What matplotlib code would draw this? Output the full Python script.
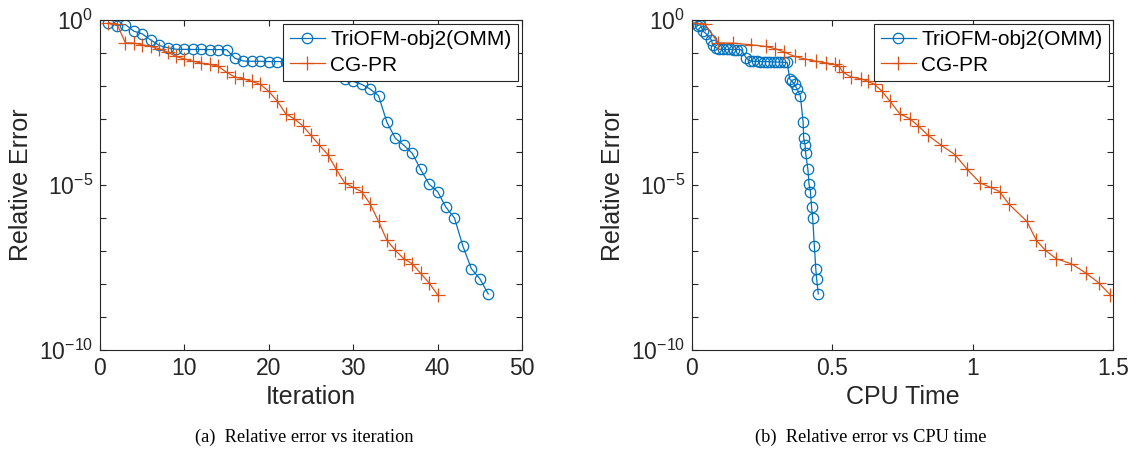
import matplotlib
matplotlib.use("Agg")
import matplotlib.pyplot as plt

# font chu: Arial-like cho truc, Times-like cho chu thich
plt.rcParams['font.family'] = ['Liberation Sans', 'DejaVu Sans']
plt.rcParams['mathtext.default'] = 'regular'

# ---- du lieu ----
# TriOFM-obj2(OMM): sai so tuong doi theo vong lap
iter_tri = list(range(1, 47))
err_tri = [0.83, 0.68, 0.73, 0.46, 0.38, 0.25, 0.17, 0.145,
           0.130, 0.129, 0.128, 0.128, 0.127, 0.127, 0.126,
           0.069,
           0.057, 0.056, 0.056, 0.055, 0.055, 0.055, 0.054, 0.054,
           0.053, 0.053, 0.052, 0.052,
           0.0166, 0.0138, 0.0112, 0.0081, 0.0051,
           7.9e-4, 2.6e-4, 1.6e-4, 9.1e-5, 2.95e-5, 1.05e-5, 6.3e-6,
           2.1e-6, 1.0e-6, 1.4e-7, 2.9e-8, 1.45e-8, 5.0e-9]
# thoi gian CPU tuong ung
time_tri = [0.0, 0.021, 0.030, 0.039, 0.051, 0.069, 0.075, 0.085,
            0.097, 0.110, 0.123, 0.136, 0.149, 0.162, 0.175,
            0.194,
            0.207, 0.219, 0.231, 0.243, 0.255, 0.267, 0.279, 0.291,
            0.303, 0.315, 0.327, 0.339,
            0.348, 0.356, 0.366, 0.374, 0.386,
            0.396, 0.398, 0.403, 0.405, 0.413, 0.417, 0.422,
            0.426, 0.430, 0.436, 0.441, 0.444, 0.450]

# CG-PR
iter_cg = list(range(1, 41))
err_cg = [0.80, 0.77, 0.204, 0.200, 0.178, 0.158, 0.135, 0.107, 0.079, 0.066,
          0.056, 0.050, 0.045, 0.040, 0.026, 0.0186, 0.0166, 0.0138, 0.0112, 0.0069,
          0.0035, 1.45e-3, 1.02e-3, 6.3e-4, 3.2e-4, 1.6e-4, 8.3e-5, 2.95e-5, 1.15e-5, 8.5e-6,
          6.3e-6, 2.7e-6, 7.9e-7, 2.1e-7, 1.05e-7, 5.8e-8, 4.1e-8, 2.1e-8, 1.07e-8, 4.7e-9]
time_cg = [0.0, 0.045, 0.093, 0.146, 0.209, 0.262, 0.297, 0.328, 0.366, 0.401,
           0.443, 0.479, 0.508, 0.524, 0.538, 0.568, 0.603, 0.627, 0.651, 0.677,
           0.705, 0.740, 0.776, 0.805, 0.841, 0.888, 0.937, 0.981, 1.027, 1.064,
           1.096, 1.128, 1.193, 1.227, 1.259, 1.298, 1.352, 1.405, 1.450, 1.490]

labels = ['TriOFM-obj2(OMM)', 'CG-PR']
y_ticks = [10.0 ** (-k) for k in range(0, 11)]
y_labels = {0: '$10^{0}$', 5: '$10^{-5}$', 10: '$10^{-10}$'}

c_blue = '#0072BD'
c_red = '#D95319'
c_ax = '#262626'

fig = plt.figure(figsize=(11.37, 4.57), dpi=100)


def ve_truc(ax, x1, x2, xlim, xticks, xticklabels, xlabel):
    ax.plot(x1, err_tri, '-o', color=c_blue, lw=0.9, ms=7.5,
            mfc='none', mew=0.9, label=labels[0])
    ax.plot(x2, err_cg, '-+', color=c_red, lw=0.9, ms=9.5,
            mew=0.9, label=labels[1])
    ax.set_yscale('log')
    ax.set_ylim(1e-10, 1)
    ax.set_xlim(*xlim)
    ax.set_yticks(y_ticks)
    ax.set_yticklabels([y_labels.get(k, '') for k in range(0, 11)])
    ax.minorticks_off()
    ax.set_xticks(xticks)
    ax.set_xticklabels(xticklabels)
    ax.tick_params(direction='in', top=True, right=True, length=4,
                   width=0.8, labelsize=16.5, colors=c_ax, pad=5)
    for s in ax.spines.values():
        s.set_color(c_ax)
        s.set_linewidth(0.8)
    ax.set_xlabel(xlabel, fontsize=18, color=c_ax, labelpad=4)
    ax.set_ylabel('Relative Error', fontsize=18, color=c_ax, labelpad=4)
    leg = ax.legend(loc='upper right', fontsize=15, handlelength=1.7,
                    handletextpad=0.25, borderpad=0.3, labelspacing=0.3,
                    borderaxespad=0.2, fancybox=False, framealpha=1)
    leg.get_frame().set_edgecolor(c_ax)
    leg.get_frame().set_linewidth(0.8)


ax1 = fig.add_axes([100 / 1137, 107 / 457, 422 / 1137, 330 / 457])
ve_truc(ax1, iter_tri, iter_cg, (0, 50), [0, 10, 20, 30, 40, 50],
        ['0', '10', '20', '30', '40', '50'], 'Iteration')

ax2 = fig.add_axes([692 / 1137, 107 / 457, 421 / 1137, 330 / 457])
ve_truc(ax2, time_tri, time_cg, (0, 1.5), [0, 0.5, 1, 1.5],
        ['0', '0.5', '1', '1.5'], 'CPU Time')

# chu thich duoi moi hinh
fig.text(304 / 1137, 1 - 437 / 457, '(a)  Relative error vs iteration',
         ha='center', va='center', fontsize=13.2, family='Liberation Serif')
fig.text(871 / 1137, 1 - 437 / 457, '(b)  Relative error vs CPU time',
         ha='center', va='center', fontsize=13.2, family='Liberation Serif')

plt.savefig('out.png', dpi=100)
